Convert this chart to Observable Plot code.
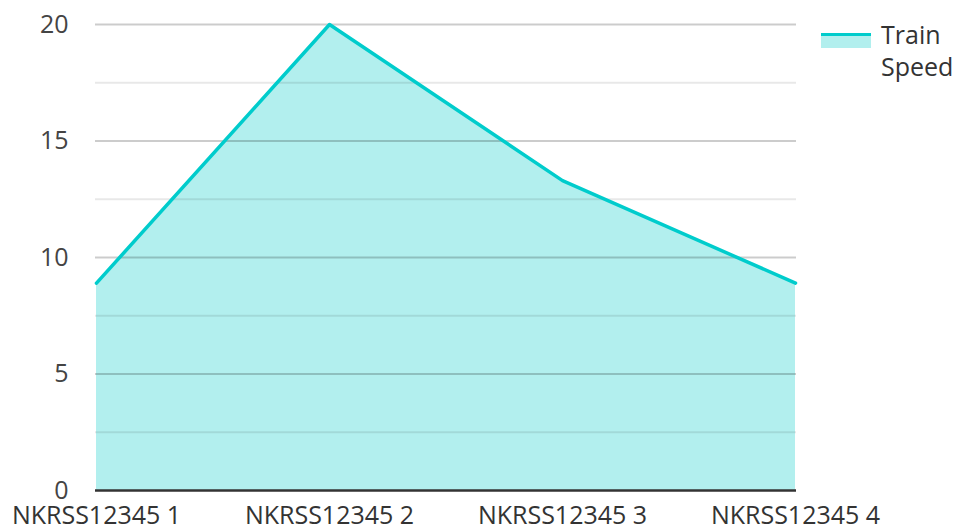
<!DOCTYPE html>
<html>
<head>
<meta charset="utf-8">
<script src="https://cdn.jsdelivr.net/npm/d3@7"></script>
<script src="https://cdn.jsdelivr.net/npm/@observablehq/plot@0.6"></script>
<style>
  html, body { margin: 0; padding: 0; background: #fff; }
  #wrap { position: relative; width: 953px; height: 532px; font-family: "Open Sans", sans-serif; }
  #legend { position: absolute; left: 821px; top: 18px; display: flex; align-items: flex-start; color: #333; font-size: 25px; line-height: 32px; }
  #legend .sw { width: 50px; height: 15px; margin-top: 15px; margin-right: 10px; background: #b2efee; border-top: 3px solid #00cccc; box-sizing: border-box; }
</style>
</head>
<body>
<div id="wrap">
  <div id="chart"></div>
  <div id="legend"><div class="sw"></div><div>Train<br>Speed</div></div>
</div>
<script>
const categories = ["NKRSS12345 1", "NKRSS12345 2", "NKRSS12345 3", "NKRSS12345 4"];
const speed = [8.9, 20, 13.3, 8.9];
const majorTicks = [0, 5, 10, 15, 20];
const minorTicks = [2.5, 7.5, 12.5, 17.5];

const data = categories.map((c, i) => ({cat: c, v: speed[i]}));

const chart = Plot.plot({
  width: 953,
  height: 532,
  marginLeft: 95,
  marginRight: 157,
  marginTop: 24,
  marginBottom: 42,
  style: {fontFamily: "'Open Sans', sans-serif", fontSize: "25px", color: "#333", background: "#fff"},
  x: {type: "point", domain: categories, padding: 0, label: null},
  y: {domain: [0, 20], label: null},
  marks: [
    Plot.areaY(data, {x: "cat", y: "v", fill: "#b2efee"}),
    Plot.ruleY(minorTicks, {stroke: "#000", strokeOpacity: 0.09, strokeWidth: 2}),
    Plot.ruleY(majorTicks.filter(d => d > 0), {stroke: "#000", strokeOpacity: 0.2, strokeWidth: 2}),
    Plot.lineY(data, {x: "cat", y: "v", stroke: "#00cccc", strokeWidth: 3.5}),
    Plot.ruleY([0], {stroke: "#333", strokeWidth: 2.5}),
    Plot.axisY(majorTicks, {tickSize: 0, tickPadding: 27, fill: "#444", fontSize: 25}),
    Plot.axisX({tickSize: 0, tickPadding: 16, fill: "#333", fontSize: 25})
  ]
});
document.getElementById("chart").appendChild(chart);
</script>
</body>
</html>
